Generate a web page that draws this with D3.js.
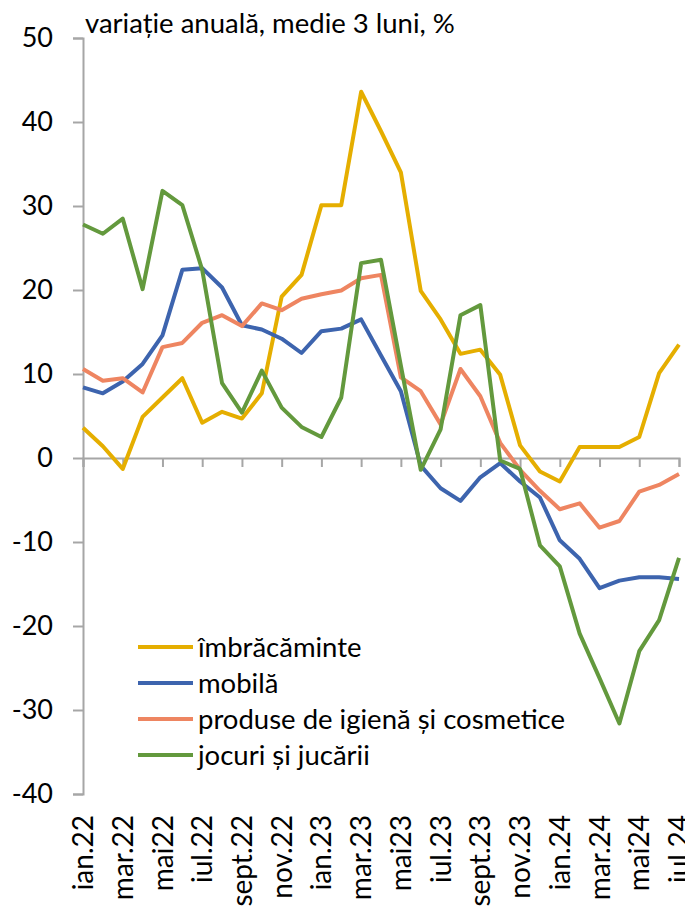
<!DOCTYPE html>
<html>
<head>
<meta charset="utf-8">
<script src="https://cdn.jsdelivr.net/npm/d3@7"></script>
<style>
  body { margin: 0; background: #fff; }
  text { font-family: Lato, "Noto Sans", sans-serif; fill: #000; }
</style>
</head>
<body>
<div id="chart-area"></div>
<script>
// luni (axa X)
const months = ["ian.22","feb.22","mar.22","apr.22","mai22","iun.22","iul.22","aug.22","sept.22","oct.22","nov.22","dec.22",
  "ian.23","feb.23","mar.23","apr.23","mai23","iun.23","iul.23","aug.23","sept.23","oct.23","nov.23","dec.23",
  "ian.24","feb.24","mar.24","apr.24","mai24","iun.24","iul.24"]

const yTicks = [-40, -30, -20, -10, 0, 10, 20, 30, 40, 50]

const imbracaminte = [3.6, 1.4, -1.3, 4.9, 7.2, 9.5, 4.2, 5.5, 4.7, 7.7, 19.2, 21.8, 30.1, 30.1, 43.6, 38.9, 34.0, 19.9, 16.5, 12.4,
  12.9, 9.9, 1.5, -1.6, -2.8, 1.3, 1.3, 1.3, 2.5, 10.1, 13.5]
const mobila = [8.4, 7.7, 9.1, 11.2, 14.6, 22.4, 22.6, 20.3, 15.8, 15.3, 14.2, 12.5, 15.1, 15.4, 16.5, 12.2, 7.95, -0.9, -3.6, -5.1,
  -2.3, -0.6, -2.8, -4.7, -9.8, -12.0, -15.5, -14.6, -14.2, -14.2, -14.4]
const igiena = [10.6, 9.2, 9.5, 7.8, 13.2, 13.7, 16.1, 17.0, 15.7, 18.4, 17.6, 18.95, 19.5, 19.95, 21.4, 21.8, 9.6, 7.95, 4.0, 10.6,
  7.35, 1.8, -1.4, -3.9, -6.1, -5.4, -8.3, -7.5, -4.0, -3.2, -1.9]
const jocuri = [27.8, 26.7, 28.5, 20.1, 31.8, 30.1, 22.4, 8.9, 5.4, 10.4, 6.0, 3.7, 2.5, 7.2, 23.2, 23.6, 11.0, -1.4, 3.4, 17.0,
  18.2, -0.3, -1.3, -10.4, -12.9, -20.9, -26.2, -31.6, -23.0, -19.3, -11.9]

const seriesNames = ["îmbrăcăminte", "mobilă", "produse de igienă și cosmetice", "jocuri și jucării"]
const seriesColors = ["#E5AE00", "#3D64AE", "#EE8561", "#63993D"]
const seriesValues = [imbracaminte, mobila, igiena, jocuri]

const WIDTH = 685
const HEIGHT = 916
const PLOT = { LEFT: 83, RIGHT: 679, TOP: 38, BOTTOM: 794 }

const svg = d3.select("#chart-area").append("svg")
  .attr("width", WIDTH)
  .attr("height", HEIGHT)

const x = d3.scalePoint()
  .domain(months)
  .range([PLOT.LEFT, PLOT.RIGHT])

const y = d3.scaleLinear()
  .domain([-40, 50])
  .range([PLOT.BOTTOM, PLOT.TOP])

// titlu
svg.append("text")
  .attr("x", 85)
  .attr("y", 33)
  .attr("font-size", "27.5px")
  .text("variație anuală, medie 3 luni, %")

// axa Y
const yAxisGroup = svg.append("g")
  .attr("transform", `translate(${PLOT.LEFT}, 0)`)
  .call(d3.axisLeft(y).tickValues(yTicks).tickSize(10).tickPadding(20).tickFormat(d => d))
yAxisGroup.select(".domain").attr("stroke", "#A6A6A6").attr("stroke-width", 2)
yAxisGroup.selectAll(".tick line").attr("stroke", "#A6A6A6").attr("stroke-width", 2)
yAxisGroup.selectAll(".tick text")
  .attr("font-size", "27px")
  .attr("font-family", "Lato, 'Noto Sans', sans-serif")
  .attr("fill", "#000")

// axa X la 0
const labelMonths = months.filter((d, i) => i % 2 === 0)
const xAxisGroup = svg.append("g")
  .attr("transform", `translate(0, ${y(0)})`)
  .call(d3.axisBottom(x).tickValues(labelMonths).tickSize(9).tickFormat(""))
xAxisGroup.select(".domain").attr("stroke", "#A6A6A6").attr("stroke-width", 2)
xAxisGroup.selectAll(".tick line").attr("stroke", "#A6A6A6").attr("stroke-width", 2)

// etichete X jos
svg.selectAll(".x-label")
  .data(labelMonths)
  .enter().append("text")
  .attr("class", "x-label")
  .attr("transform", d => `translate(${x(d)}, 815) rotate(-90)`)
  .attr("text-anchor", "end")
  .attr("dy", "0.36em")
  .attr("font-size", "28px")
  .text(d => d)

// linii
const line = d3.line()
  .x((d, i) => x(months[i]))
  .y(d => y(d))

seriesValues.forEach((vals, k) => {
  svg.append("path")
    .datum(vals)
    .attr("fill", "none")
    .attr("stroke", seriesColors[k])
    .attr("stroke-width", 4)
    .attr("stroke-linejoin", "round")
    .attr("d", line)
})

// legenda
const legendY = [647, 683, 719, 755]
const legend = svg.selectAll(".legend")
  .data(seriesNames)
  .enter().append("g")
  .attr("class", "legend")
  .attr("transform", (d, i) => `translate(138, ${legendY[i]})`)

legend.append("line")
  .attr("x1", 0).attr("x2", 55)
  .attr("stroke", (d, i) => seriesColors[i])
  .attr("stroke-width", 4)

legend.append("text")
  .attr("x", 60)
  .attr("dy", "0.36em")
  .attr("font-size", "27.5px")
  .text(d => d)
</script>
</body>
</html>
